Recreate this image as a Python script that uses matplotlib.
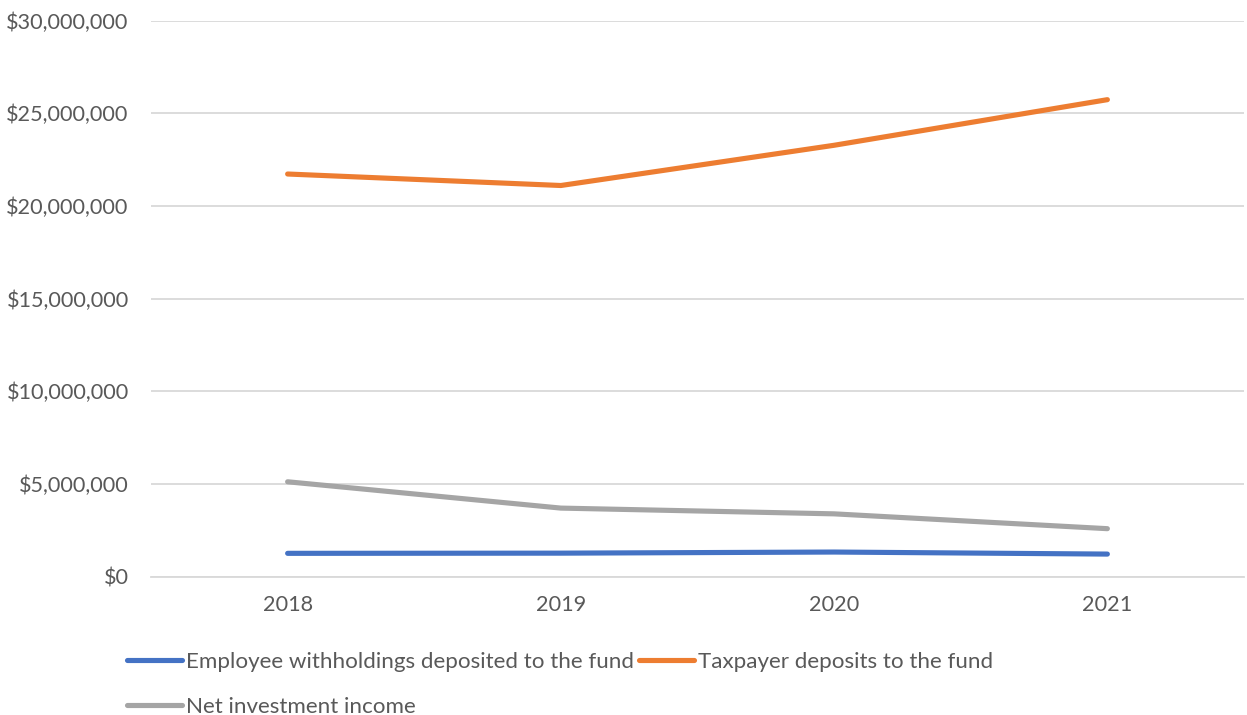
import matplotlib
matplotlib.use("Agg")
import matplotlib.pyplot as plt
from matplotlib.ticker import FuncFormatter, MultipleLocator

years = ["2018", "2019", "2020", "2021"]
employee = [1260000, 1270000, 1330000, 1220000]
taxpayer = [21720000, 21100000, 23270000, 25730000]
net_income = [5120000, 3700000, 3390000, 2590000]

plt.rcParams['font.family'] = ['Lato', 'DejaVu Sans']
txt = '#595959'
fs = 15.6
lfs = 16.1

fig = plt.figure(figsize=(12.47, 7.15), dpi=100)
ax = fig.add_axes([151/1247, 1-576.7/715, (1244-151)/1247, (576.7-20.5)/715])

x = list(range(len(years)))
l1, = ax.plot(x, employee, color='#4472C4', lw=3.7, solid_capstyle='round', label='Employee withholdings deposited to the fund')
l2, = ax.plot(x, taxpayer, color='#ED7D31', lw=3.7, solid_capstyle='round', label='Taxpayer deposits to the fund')
l3, = ax.plot(x, net_income, color='#A5A5A5', lw=3.7, solid_capstyle='round', label='Net investment income')

ax.set_xlim(-0.5, len(years) - 0.5)
ax.set_ylim(0, 30000000)
ax.yaxis.set_major_locator(MultipleLocator(5000000))
ax.yaxis.set_major_formatter(FuncFormatter(lambda v, p: f"${v:,.0f}"))
ax.set_xticks(x)
ax.set_xticklabels(years)
ax.grid(axis='y', color='#D9D9D9', lw=1.3)
ax.set_axisbelow(True)
for s in ['top', 'right', 'left']:
    ax.spines[s].set_visible(False)
ax.spines['bottom'].set_color('#D9D9D9')
ax.spines['bottom'].set_linewidth(1.3)
ax.tick_params(axis='both', length=0, labelsize=fs, colors=txt)
ax.tick_params(axis='y', pad=16)
ax.tick_params(axis='x', pad=13)

leg = fig.legend(handles=[l1, l3, l2], ncol=2, loc='upper left',
                 bbox_to_anchor=(127/1247, 1-652/715), frameon=False,
                 fontsize=lfs, handlelength=2.45, handletextpad=0.18,
                 columnspacing=0.22, labelspacing=1.1, borderaxespad=0,
                 borderpad=0)
for t in leg.get_texts():
    t.set_color(txt)

fig.savefig("out.png", dpi=100)
